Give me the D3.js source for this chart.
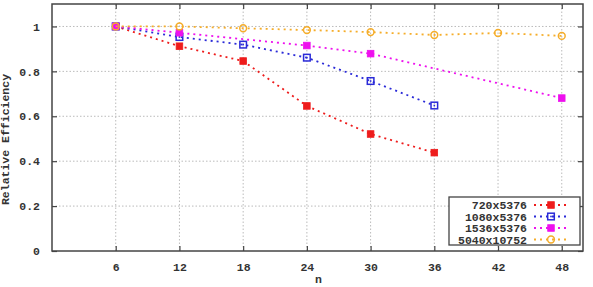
<!DOCTYPE html>
<html>
<head>
<meta charset="utf-8">
<script src="https://cdn.jsdelivr.net/npm/d3@7"></script>
<style>
	body { margin: 0; background: #fff; }
	text { font-family: "Liberation Mono", "DejaVu Sans Mono", monospace; font-weight: bold; fill: #333; }
</style>
</head>
<body>
<svg id="chart"></svg>
<script>
// data
let xTicks = [6, 12, 18, 24, 30, 36, 42, 48];
let yTicks = [0, 0.2, 0.4, 0.6, 0.8, 1];
let seriesNames = ['720x5376', '1080x5376', '1536x5376', '5040x10752'];
let colors = ['#ee1c1c', '#2a2ad8', '#ee10ee', '#f5ad2a'];
let shapes = ['fsquare', 'osquare', 'fsquare', 'circle'];

let nRed = [6, 12, 18, 24, 30, 36];
let effRed = [1, 0.912, 0.846, 0.646, 0.521, 0.438];
let nBlue = [6, 12, 18, 24, 30, 36];
let effBlue = [1, 0.953, 0.919, 0.861, 0.757, 0.648];
let nMagenta = [6, 12, 24, 30, 48];
let effMagenta = [1, 0.972, 0.915, 0.879, 0.681];
let nOrange = [6, 12, 18, 24, 30, 36, 42, 48];
let effOrange = [1, 1.0, 0.992, 0.984, 0.975, 0.962, 0.971, 0.958];

function makeChart() {
	let w = 593;
	let h = 287;
	let m = { left: 52, right: 10, top: 4, bottom: 36 };

	let svg = d3.select('#chart')
		.attr('width', w)
		.attr('height', h);

	let x = d3.scaleLinear().domain([0, 50]).range([m.left, w - m.right]);
	let y = d3.scaleLinear().domain([0, 1.1]).range([h - m.bottom, m.top]);

	// grid
	svg.append('g').selectAll('line')
		.data(xTicks)
		.enter().append('line')
		.attr('x1', d => x(d)).attr('x2', d => x(d))
		.attr('y1', y(0)).attr('y2', y(1.1))
		.attr('stroke', '#bbb').attr('stroke-width', 1)
		.attr('stroke-dasharray', '1.5,2');
	svg.append('g').selectAll('line')
		.data(yTicks.filter(d => d > 0))
		.enter().append('line')
		.attr('x1', x(0)).attr('x2', x(50))
		.attr('y1', d => y(d)).attr('y2', d => y(d))
		.attr('stroke', '#bbb').attr('stroke-width', 1)
		.attr('stroke-dasharray', '1.5,2');

	// axes, ticks pointing inward
	let tickStyle = g => {
		g.select('.domain').remove();
		g.selectAll('.tick line').attr('stroke', '#444').attr('stroke-width', 1.2);
		g.selectAll('.tick text').style('font-size', '11.5px');
	};
	svg.append('g')
		.attr('transform', `translate(0,${y(0)})`)
		.call(d3.axisBottom(x).tickValues(xTicks).tickSizeInner(-5).tickPadding(12).tickFormat(d3.format('d')))
		.call(tickStyle);
	svg.append('g')
		.attr('transform', `translate(0,${y(1.1)})`)
		.call(d3.axisTop(x).tickValues(xTicks).tickSizeInner(-5).tickFormat(''))
		.call(tickStyle);
	svg.append('g')
		.attr('transform', `translate(${x(0)},0)`)
		.call(d3.axisLeft(y).tickValues(yTicks).tickSizeInner(-5).tickPadding(12).tickFormat(d => d === 0 || d === 1 ? d : d3.format('.1f')(d)))
		.call(tickStyle);
	svg.append('g')
		.attr('transform', `translate(${x(50)},0)`)
		.call(d3.axisRight(y).tickValues(yTicks).tickSizeInner(-5).tickFormat(''))
		.call(tickStyle);

	// frame
	svg.append('rect')
		.attr('x', x(0)).attr('y', y(1.1))
		.attr('width', x(50) - x(0)).attr('height', y(0) - y(1.1))
		.attr('fill', 'none').attr('stroke', '#444').attr('stroke-width', 1.5);

	// axis titles
	svg.append('text')
		.attr('x', (x(0) + x(50)) / 2 + 1).attr('y', h - 4)
		.style('text-anchor', 'middle').style('font-size', '11.5px')
		.text('n');
	svg.append('text')
		.attr('transform', `translate(9,${(y(0) + y(1.1)) / 2 + 12}) rotate(-90)`)
		.style('text-anchor', 'middle').style('font-size', '11.5px')
		.text('Relative Efficiency');

	let series = [
		{ xs: nRed, ys: effRed },
		{ xs: nBlue, ys: effBlue },
		{ xs: nMagenta, ys: effMagenta },
		{ xs: nOrange, ys: effOrange }
	];

	let line = d3.line().x(d => x(d[0])).y(d => y(d[1]));

	function marker(g, shape, color, cx, cy) {
		if (shape === 'circle') {
			g.append('circle').attr('cx', cx).attr('cy', cy).attr('r', 3.4)
				.attr('fill', 'none').attr('stroke', color).attr('stroke-width', 1.5);
		} else if (shape === 'osquare') {
			g.append('rect').attr('x', cx - 3.3).attr('y', cy - 3.3).attr('width', 6.6).attr('height', 6.6)
				.attr('fill', 'none').attr('stroke', color).attr('stroke-width', 1.5);
			g.append('rect').attr('x', cx - 0.8).attr('y', cy - 0.8).attr('width', 1.6).attr('height', 1.6)
				.attr('fill', color);
		} else {
			g.append('rect').attr('x', cx - 3.3).attr('y', cy - 3.3).attr('width', 6.6).attr('height', 6.6)
				.attr('fill', color).attr('stroke', color).attr('stroke-width', 0.8);
		}
	}

	series.forEach((s, i) => {
		let pts = s.xs.map((v, j) => [v, s.ys[j]]);
		let g = svg.append('g');
		g.append('path')
			.attr('d', line(pts))
			.attr('fill', 'none')
			.attr('stroke', colors[i])
			.attr('stroke-width', 1.8)
			.attr('stroke-dasharray', '2,4');
		pts.forEach(p => marker(g, shapes[i], colors[i], x(p[0]), y(p[1])));
	});

	// legend
	let lg = svg.append('g');
	lg.append('rect')
		.attr('x', 449).attr('y', 197)
		.attr('width', 131).attr('height', 48)
		.attr('fill', '#fff').attr('stroke', '#444').attr('stroke-width', 1.3);
	seriesNames.forEach((name, i) => {
		let ly = 205 + i * 11.5;
		lg.append('text')
			.attr('x', 527).attr('y', ly + 4)
			.style('text-anchor', 'end').style('font-size', '11.5px')
			.text(name);
		lg.append('line')
			.attr('x1', 534).attr('x2', 567)
			.attr('y1', ly).attr('y2', ly)
			.attr('stroke', colors[i]).attr('stroke-width', 1.8)
			.attr('stroke-dasharray', '2,4');
		marker(lg, shapes[i], colors[i], 551, ly);
	});
}

window.onload = function () {
	makeChart();
}
</script>
</body>
</html>
